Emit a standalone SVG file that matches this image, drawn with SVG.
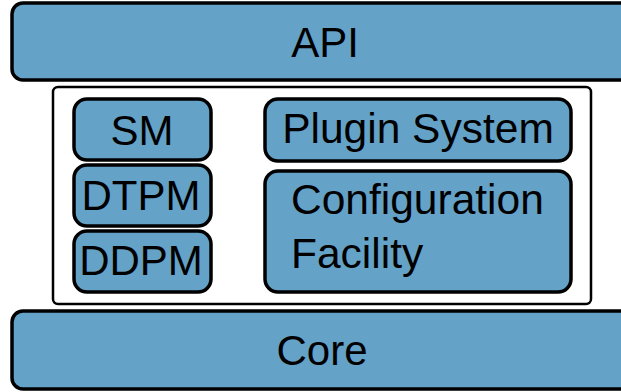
<svg xmlns="http://www.w3.org/2000/svg" width="621" height="392" viewBox="0 0 621 392">
  <style>
    .blk { fill: #64a2c8; stroke: #000; stroke-width: 3.5; }
    .frame { fill: #fff; stroke: #000; stroke-width: 2.5; }
    .lbl { font-family: "Liberation Sans", Arial, sans-serif; font-size: 42px; fill: #000; }
    .big { font-size: 42.5px; }
    .mid { text-anchor: middle; }
  </style>
  <rect width="621" height="392" fill="#fff"/>

  <g id="api">
    <rect class="blk" x="12" y="3" width="630" height="77" rx="11"/>
    <text class="lbl mid" x="325" y="57">API</text>
  </g>

  <g id="container">
    <rect class="frame" x="53" y="87" width="538" height="217" rx="5"/>
  </g>

  <g id="sm">
    <rect class="blk" x="74" y="99" width="137" height="61" rx="13"/>
    <text class="lbl mid" x="142" y="145">SM</text>
  </g>
  <g id="dtpm">
    <rect class="blk" x="74" y="165" width="137" height="61" rx="13"/>
    <text class="lbl mid" x="141" y="210">DTPM</text>
  </g>
  <g id="ddpm">
    <rect class="blk" x="74" y="231" width="137" height="61" rx="13"/>
    <text class="lbl mid" x="141" y="275">DDPM</text>
  </g>

  <g id="plugin-system">
    <rect class="blk" x="265" y="99" width="306" height="62" rx="13"/>
    <text class="lbl big mid" x="418" y="143">Plugin System</text>
  </g>
  <g id="configuration-facility">
    <rect class="blk" x="265" y="171" width="306" height="121" rx="13"/>
    <text class="lbl big" x="291" y="214">Configuration</text>
    <text class="lbl big" x="291" y="268">Facility</text>
  </g>

  <g id="core">
    <rect class="blk" x="12" y="311" width="630" height="78" rx="11"/>
    <text class="lbl mid" x="322" y="365">Core</text>
  </g>

  <g id="connectors"></g>
</svg>
